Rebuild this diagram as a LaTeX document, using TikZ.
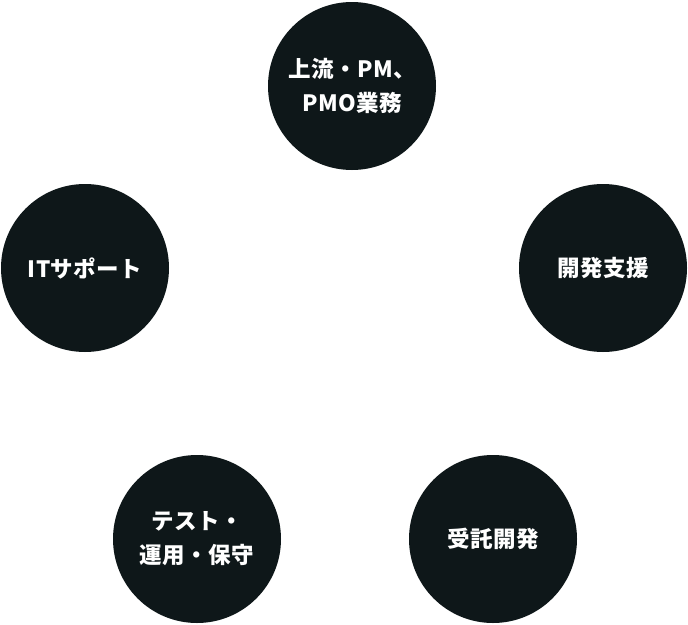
\documentclass[tikz,border=0pt]{standalone}
\usepackage{fontspec}
\usepackage{xcolor}
\usepackage{tikz}
\usetikzlibrary{positioning}
\newfontfamily\jp[LetterSpace=2]{Noto Sans CJK JP}
\definecolor{circdark}{HTML}{0E1719}

\begin{document}
\begin{tikzpicture}[x=1pt, y=-1pt,
    svc/.style={circle, fill=circdark, minimum size=168pt, inner sep=0pt, text=white, align=center, font=\jp\bfseries\fontsize{22.5}{34}\selectfont}
]
    \useasboundingbox (0,0) rectangle (688,624);
    \node[svc] (pm) at (352,86) {上流・PM、\\PMO業務};
    \node[svc] (dev) at (603,268) {開発支援};
    \node[svc] (itsup) at (85,268) {ITサポート};
    \node[svc] (test) at (197,539) {テスト・\\運用・保守};
    \node[svc] (contract) at (493,539) {受託開発};
\end{tikzpicture}
\end{document}
